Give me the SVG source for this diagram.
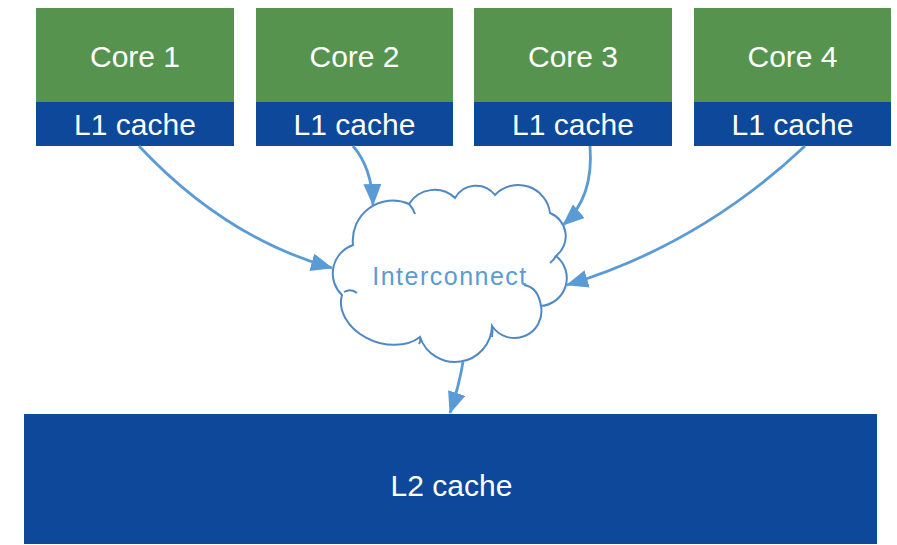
<svg xmlns="http://www.w3.org/2000/svg" width="897" height="545" viewBox="0 0 897 545">
<style>
.core{fill:#56934F}
.l1{fill:#0D489A}
.lbl{font-family:"Liberation Sans",Arial,sans-serif;font-size:30px;fill:#FFFFFF;text-anchor:middle}
.conn{fill:none;stroke:#5B9BD5;stroke-width:2.8}
.cloud{fill:#FFFFFF;stroke:#4F89C5;stroke-width:2}
.hook{fill:none;stroke:#4F89C5;stroke-width:2}
</style>
<defs>
<marker id="ah" markerUnits="userSpaceOnUse" markerWidth="22" markerHeight="18" refX="21" refY="9" orient="auto">
<path d="M0,0 L22,9 L0,18 z" fill="#5B9BD5"/>
</marker>
</defs>
<rect width="897" height="545" fill="#FFFFFF"/>
<g id="core1">
<rect class="core" x="36" y="8" width="198" height="94"/>
<rect class="l1" x="36" y="102" width="198" height="44"/>
<text class="lbl" x="135" y="67">Core 1</text>
<text class="lbl" x="135" y="135">L1 cache</text>
</g>
<g id="core2">
<rect class="core" x="256" y="8" width="197" height="94"/>
<rect class="l1" x="256" y="102" width="197" height="44"/>
<text class="lbl" x="354.5" y="67">Core 2</text>
<text class="lbl" x="354.5" y="135">L1 cache</text>
</g>
<g id="core3">
<rect class="core" x="474" y="8" width="198" height="94"/>
<rect class="l1" x="474" y="102" width="198" height="44"/>
<text class="lbl" x="573" y="67">Core 3</text>
<text class="lbl" x="573" y="135">L1 cache</text>
</g>
<g id="core4">
<rect class="core" x="694" y="8" width="197" height="94"/>
<rect class="l1" x="694" y="102" width="197" height="44"/>
<text class="lbl" x="792.5" y="67">Core 4</text>
<text class="lbl" x="792.5" y="135">L1 cache</text>
</g>
<g id="l2">
<rect class="l1" x="24" y="414" width="853" height="130"/>
<text class="lbl" x="451.5" y="496">L2 cache</text>
</g>
<g id="interconnect">
<path class="cloud" d="M353,245 A40,40 0 0 1 409,204 A30,30 0 0 1 455,198 A24,24 0 0 1 495,195 A32,32 0 0 1 550,213 A25,25 0 0 1 556,256 A28,28 0 0 1 541,306 A27,27 0 0 1 492,326 A37,37 0 0 1 420,337 A46,34 20 0 1 342,295 A30,30 0 0 1 353,245 Z"/>
<path class="hook" d="M344,292 Q351,288 357,293"/>
<path class="hook" d="M409,204 Q413,208 415,214"/>
<path class="hook" d="M556,256 Q554,260 550,263"/>
<path class="hook" d="M524,285 Q538,287 541,306"/>
<path class="hook" d="M492,326 Q493,331 492,337"/>
<path class="hook" d="M420,337 Q421,341 419,344"/>
<text x="450" y="285" font-family="Liberation Sans, Arial, sans-serif" font-size="25" letter-spacing="1.5" fill="#5B9BD5" text-anchor="middle">Interconnect</text>
</g>
<g id="connectors">
<path class="conn" marker-end="url(#ah)" d="M139,146 Q225,238 332,268"/>
<path class="conn" marker-end="url(#ah)" d="M353,146 Q372,168 373,205"/>
<path class="conn" marker-end="url(#ah)" d="M590,146 Q594,198 563,225"/>
<path class="conn" marker-end="url(#ah)" d="M805,146 Q700,245 567,285"/>
<path class="conn" marker-end="url(#ah)" d="M463,362 Q459,386 450,413"/>
</g>
</svg>
